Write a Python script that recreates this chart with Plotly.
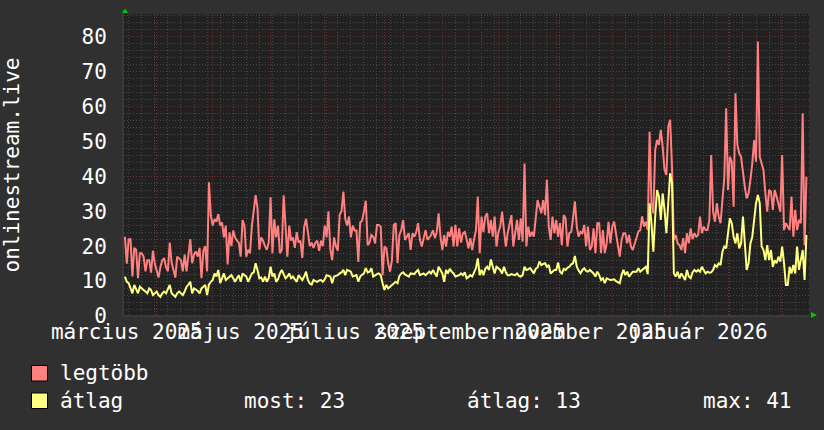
import numpy as np
import pandas as pd
import plotly.graph_objects as go

# ---------------- data ----------------
start_day = "2025-03-15"
legtobb = [
    22.7, 15, 22, 22, 11.3, 19.5, 19, 10.8, 18, 18,
    17, 12.8, 16, 16, 12.4, 18.7, 15, 12.8, 11, 14,
    16, 16.6, 14, 12.8, 21, 15.3, 13, 11, 17, 16.6,
    16, 12.8, 17.6, 12.8, 18, 22, 15.1, 17.6, 18.5, 17,
    19.5, 10.8, 18.7, 20, 12.8, 38.3, 28.8, 25.9, 27.8, 27,
    29.2, 25.9, 26.8, 22.5, 25.9, 14.8, 24, 20, 24.5, 22.5,
    21.6, 21, 17, 27.5, 25.9, 17, 19, 18, 25.9, 30,
    34.6, 30.8, 19, 22.5, 21.6, 20, 19, 21, 34, 18,
    27.7, 22.5, 25.9, 18, 19, 34.6, 24.5, 17, 25.9, 21.6,
    22.5, 19.5, 24, 21, 21.6, 16.6, 25.5, 27.8, 24, 20,
    21, 19.5, 21, 21.6, 18.7, 21.6, 20, 25.9, 22.5, 30,
    19, 16, 22.5, 20, 18.7, 29, 30, 35.6, 27.8, 25.9,
    28.5, 22.5, 25.9, 24.5, 24.5, 15.5, 26.8, 27.3, 29.9, 33,
    20.3, 21, 23.2, 22.7, 20.8, 26.1, 26.1, 25.6, 11.7, 19.9,
    19.4, 15.1, 12.7, 16, 26.1, 26.6, 15.1, 23.2, 24.6, 27.5,
    21.8, 22.7, 23.7, 18.9, 23.7, 22.7, 24, 26.6, 21.8, 19.9,
    22.7, 24.6, 21.8, 22.5, 23.2, 24.6, 22.3, 24, 29.4, 22.7,
    18.9, 23.2, 19.9, 24.1, 22.7, 25.6, 19.9, 26.1, 19.9, 25.1,
    21, 23.7, 24.1, 22, 19.4, 22.3, 18.9, 22, 24.6, 34.2,
    18, 28.5, 24, 28.5, 29.4, 23.7, 27.5, 22.7, 28.5, 19.9,
    24, 25.6, 29.9, 24.6, 19.9, 23.7, 26.1, 28.9, 19.9, 23.7,
    27.5, 21.8, 28, 21.3, 43.7, 19.9, 25.6, 22.7, 24.1, 22.7,
    28.9, 33.2, 31.3, 29.4, 33.2, 28.9, 39, 25.6, 21.8, 28.5,
    23.7, 27.5, 22.7, 26.6, 20.3, 28.9, 28, 19.9, 23.7, 24.1,
    28, 32.8, 25.6, 22.7, 24.1, 23.7, 26.1, 19.9, 25.6, 18.9,
    19.9, 25.1, 18, 26.6, 26.6, 18, 24.6, 18, 20.8, 27,
    20.8, 25.6, 27, 23.7, 19.9, 17, 21.8, 23.7, 23.7, 20.8,
    23.2, 19.9, 18.9, 20.8, 22.7, 24.2, 24.6, 28.5, 25.6, 27,
    24.6, 52.8, 32.3, 29.4, 47.6, 50.4, 49, 53.3, 48.5, 41.9,
    40.4, 54.2, 56.2, 42.8, 21.8, 23.2, 20.8, 20.3, 18.9, 22.3,
    18, 23.7, 20.8, 25.1, 22, 23.7, 22.7, 23.2, 28.5, 23.7,
    25.6, 24.6, 24.6, 27.5, 46.1, 29.9, 27, 32.3, 28.5, 26.6,
    33.2, 39.4, 59.5, 36.1, 45.6, 44.2, 31.3, 63.8, 49, 46.6,
    45.6, 40.9, 37, 33.7, 35.1, 39, 43.7, 50.4, 44.2, 78.6,
    45.6, 43.7, 41.8, 35.1, 29.9, 36.1, 35.6, 30.4, 36.1, 34.2,
    31.8, 29.9, 46.1, 24.6, 26.6, 25.6, 24.6, 34.2, 22.7, 30.4,
    24.6, 27.5, 26.6, 58.1, 20.3, 39.9,
]
atlag = [
    11.3, 9.8, 9.4, 8, 6.5, 8.9, 7.9, 6.5, 8.4, 7.8,
    7.45, 7, 6.5, 7.9, 7.45, 6, 6.5, 7, 6, 5.5,
    6.5, 7, 6.5, 7.5, 8.9, 6.5, 6, 5.5, 6.5, 7,
    6.5, 6, 7, 8.4, 9, 9.8, 6.5, 7.9, 7.6, 7.2,
    6.5, 7.9, 8.4, 8.9, 6, 9, 9.8, 10.3, 12.2, 11.3,
    13.2, 9.4, 10.8, 12.2, 10.3, 10.8, 11.3, 11.7, 10.8, 9.8,
    10.8, 11.7, 9.8, 12.2, 11.7, 11.3, 9.8, 11.3, 12.2, 12.5,
    15.1, 13.2, 10.8, 11, 9.8, 11.3, 9.8, 10.8, 14.1, 11.3,
    12.2, 9.8, 10.5, 12.2, 13.2, 12, 10.8, 11.3, 12.2, 10.8,
    11.3, 10.5, 9.8, 11.7, 11, 10.3, 11.3, 12.7, 10.3, 9.3,
    9, 10.3, 10, 9.8, 10.2, 10.3, 9.8, 10.5, 11.7, 11.5,
    11.3, 9.4, 11.3, 11.5, 11.7, 12.2, 12.5, 13.2, 11.7, 13.2,
    12.9, 12.7, 11.3, 11.5, 11.7, 9.8, 11.3, 11.8, 12.2, 13.7,
    12.5, 12.7, 13.7, 11.3, 11.7, 12, 12.2, 11.7, 9.4, 7.45,
    8.9, 7.9, 8.4, 8.9, 9.5, 9.8, 9.4, 11.5, 12.2, 12.5,
    11.9, 11.5, 11.3, 12.2, 12, 12, 12.7, 13.2, 11.7, 12,
    12.2, 11.7, 12.3, 12.7, 12.2, 13.2, 12.2, 11.3, 14.1, 13,
    12.2, 9.8, 13.2, 12.2, 13.5, 12.7, 12.2, 11.3, 11.5, 11.7,
    12.2, 11.7, 12.5, 10.8, 11.2, 11.7, 11.3, 12.5, 13.7, 16.5,
    11.7, 13.2, 11.7, 13.5, 14.1, 13.2, 16.2, 14.1, 12.2, 14.1,
    13.5, 13.2, 12.2, 14.1, 12.5, 11.7, 11.7, 12, 11.8, 11.7,
    12.2, 11.5, 11.3, 11.7, 14.1, 13.2, 13.4, 13.7, 13, 12.2,
    13.5, 13.9, 15.6, 14.6, 14.9, 15.1, 14.1, 14.6, 12.2, 12.8,
    13.2, 13.2, 15.3, 12.7, 12.2, 13.5, 13.2, 13.8, 14.1, 14.8,
    15.1, 17.2, 14.1, 13, 12.2, 13.2, 13.7, 12.9, 12.7, 13.2,
    12.8, 12.2, 11.3, 12.7, 11.7, 10.3, 10.8, 9.4, 10.8, 10.5,
    10.3, 10.4, 10.5, 10, 9.8, 9.4, 11.7, 13.2, 11.7, 12.7,
    11.3, 12, 12.7, 12.7, 12.7, 13.7, 12.7, 13.2, 13.7, 14.1,
    12, 32.3, 26.6, 18.4, 28.5, 36.1, 34.2, 27.5, 35.1, 30.4,
    23.7, 33.2, 40.9, 38, 12.2, 11.3, 12.7, 10.8, 12.2, 11.3,
    10.3, 13.2, 11.3, 10.8, 12.5, 13.2, 12.7, 13.2, 12.7, 14.1,
    13.2, 12.2, 12.7, 12.4, 12.5, 13.2, 14.6, 14.1, 15.1, 14.6,
    18.4, 19.9, 19.4, 24.6, 28, 26.6, 22.7, 20.8, 23.7, 19.4,
    20.8, 28.5, 20.8, 13.2, 15.1, 20.8, 22.7, 28.5, 32.3, 34.7,
    32.3, 19.9, 18.9, 16, 20.3, 16, 18.9, 14.1, 16, 15.1,
    17, 15.6, 19.9, 15.1, 8.9, 8.9, 14.1, 12.2, 14.6, 12.2,
    19.9, 13.2, 16, 18.9, 10.3, 23.2,
]
label_dates = ["2025-03-16", "2025-05-16", "2025-07-16",
               "2025-09-16", "2025-11-16", "2026-01-16"]
label_texts = ["március 2025", "május 2025", "július 2025",
               "szeptember 2025", "november 2025", "január 2026"]
series_names = ["legtöbb", "átlag"]
y_title = "onlinestream.live"

dates = pd.date_range(start_day, periods=len(legtobb), freq="D")

# ---------------- style ----------------
W, H = 824, 430
ML, MR, MT, MB = 124, 15, 14, 114
PW, PH = W - ML - MR, H - MT - MB
FONT = "DejaVu Sans Mono"
PAPER = "#303030"
PLOT = "#212121"
RED = "#ff8080"
YEL = "#ffff80"
MAJ = "#6a3030"
MIN = "#474747"
DOT = "1px,2px"
XR = ["2025-03-14 12:00", "2026-03-16 09:00"]

def px(x):
    return (x - ML) / PW

def py(y):
    return (H - MB - y) / PH

fig = go.Figure()
fig.add_trace(go.Scatter(x=dates, y=legtobb, mode="lines", name=series_names[0],
                         line=dict(color=RED, width=2), hoverinfo="skip"))
fig.add_trace(go.Scatter(x=dates, y=atlag, mode="lines", name=series_names[1],
                         line=dict(color=YEL, width=2), hoverinfo="skip"))
fig.add_trace(go.Scatter(x=[dates[0], dates[-1]], y=[None, None], xaxis="x2",
                         showlegend=False, hoverinfo="skip"))

fig.update_layout(
    width=W, height=H, autosize=False,
    margin=dict(l=ML, r=MR, t=MT, b=MB, pad=0, autoexpand=False),
    paper_bgcolor=PAPER, plot_bgcolor=PLOT,
    showlegend=False,
    font=dict(family=FONT, size=21, color="white"),
    xaxis=dict(type="date", range=XR, dtick="M1", tick0="2025-01-01",
               showticklabels=False, ticks="", showgrid=True, automargin=False,
               gridcolor=MAJ, griddash=DOT, gridwidth=1, zeroline=False,
               showline=False,
               minor=dict(dtick=7 * 86400000, tick0="2025-03-17", showgrid=True,
                          gridcolor=MIN, griddash=DOT, gridwidth=1, ticks="")),
    xaxis2=dict(type="date", range=XR, overlaying="x", anchor="y", side="bottom",
                tickmode="array", tickvals=label_dates, ticktext=label_texts,
                tickangle=0, showgrid=False, zeroline=False, showline=False,
                ticks="", ticklabelstandoff=1, automargin=False,
                tickfont=dict(family=FONT, size=21, color="white")),
    yaxis=dict(range=[0, 86.5], dtick=10, tick0=0, showgrid=True, automargin=False,
               gridcolor=MAJ, griddash=DOT, gridwidth=1, zeroline=False,
               showline=True, linecolor="#3a3a3a", linewidth=2,
               ticks="", ticklabelstandoff=11,
               tickfont=dict(family=FONT, size=21, color="white"),
               title=dict(text=y_title, standoff=58,
                          font=dict(family=FONT, size=21, color="white")),
               minor=dict(dtick=2, showgrid=True, gridcolor=MIN,
                          griddash=DOT, gridwidth=1, ticks="")),
)

shapes = []
shapes.append(dict(type="line", xref="paper", yref="paper", x0=0, x1=1, y0=0, y1=0,
                   line=dict(color="#3a3a3a", width=2), layer="below"))
shapes.append(dict(type="path", xref="paper", yref="paper",
                   path=f"M {px(125)} {py(8.5)} L {px(122)} {py(13)} L {px(128)} {py(13)} Z",
                   fillcolor="#00c800", line=dict(width=0)))
shapes.append(dict(type="path", xref="paper", yref="paper",
                   path=f"M {px(817)} {py(315)} L {px(811)} {py(312)} L {px(811)} {py(318)} Z",
                   fillcolor="#00c800", line=dict(width=0)))
for (y0, y1), col in zip([(365.5, 381), (393, 408.5)], [RED, YEL]):
    shapes.append(dict(type="rect", xref="paper", yref="paper",
                       x0=px(31.5), x1=px(47.5), y0=py(y1), y1=py(y0),
                       fillcolor=col, line=dict(color="black", width=1)))
fig.update_layout(shapes=shapes)

last_v = atlag[-1]
mean_v = float(np.mean(atlag))
max_v = max(atlag)
ann = [
    (58, 373, series_names[0]),
    (58, 401, series_names[1]),
    (242, 401, f"most: {last_v:.0f}"),
    (465, 401, f"átlag: {mean_v:.0f}"),
    (701, 401, f"max: {max_v:.0f}"),
]
for x, y, t in ann:
    fig.add_annotation(x=px(x), y=py(y), xref="paper", yref="paper", text=t,
                       showarrow=False, xanchor="left", yanchor="middle",
                       font=dict(family=FONT, size=21, color="white"))

fig.write_html(
    "out.html",
    config={"displayModeBar": False, "staticPlot": True},
    post_script="document.body.style.margin='0';document.body.style.overflow='hidden';"
                "document.body.style.background='#303030';",
)
